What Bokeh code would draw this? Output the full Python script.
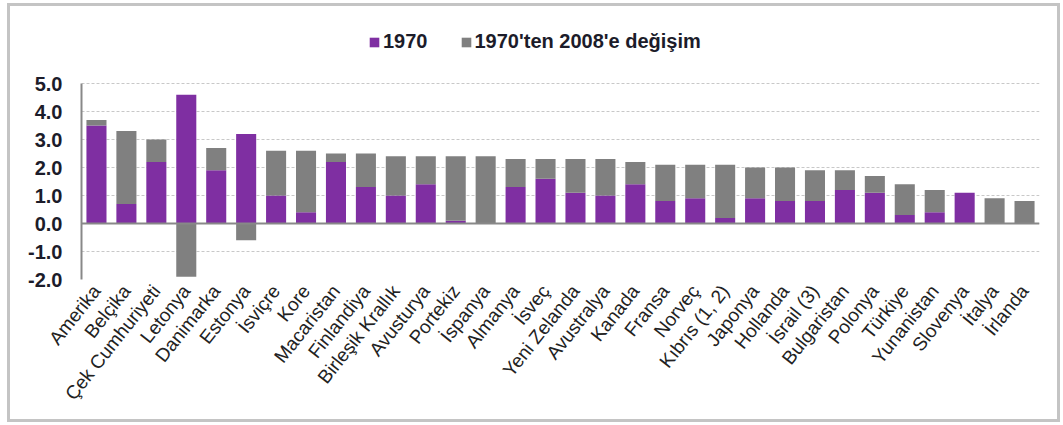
import math
from bokeh.plotting import figure
from bokeh.models import (ColumnDataSource, FactorRange, Range1d, FixedTicker,
                          NumeralTickFormatter, Span, Legend, LegendItem)
from bokeh.embed import file_html
from bokeh.resources import INLINE

countries = ["Amerika", "Belçika", "Çek Cumhuriyeti", "Letonya", "Danimarka", "Estonya",
             "İsviçre", "Kore", "Macaristan", "Finlandiya", "Birleşik Krallık", "Avusturya",
             "Portekiz", "İspanya", "Almanya", "İsveç", "Yeni Zelanda", "Avustralya",
             "Kanada", "Fransa", "Norveç", "Kıbrıs (1, 2)", "Japonya", "Hollanda",
             "İsrail (3)", "Bulgaristan", "Polonya", "Türkiye", "Yunanistan", "Slovenya",
             "İtalya", "İrlanda"]
v1970 = [3.5, 0.7, 2.2, 4.6, 1.9, 3.2, 1.0, 0.4, 2.2, 1.3, 1.0, 1.4, 0.1, 0.0, 1.3, 1.6,
         1.1, 1.0, 1.4, 0.8, 0.9, 0.2, 0.9, 0.8, 0.8, 1.2, 1.1, 0.3, 0.4, 1.1, 0.0, 0.0]
change = [0.2, 2.6, 0.8, -1.9, 0.8, -0.6, 1.6, 2.2, 0.3, 1.2, 1.4, 1.0, 2.3, 2.4, 1.0, 0.7,
          1.2, 1.3, 0.8, 1.3, 1.2, 1.9, 1.1, 1.2, 1.1, 0.7, 0.6, 1.1, 0.8, 0.0, 0.9, 0.8]
y_ticks = [-2, -1, 0, 1, 2, 3, 4, 5]
label_1970 = "1970"
label_change = "1970'ten 2008'e değişim"

PURPLE = "#7f2fa2"
GRAY = "#808080"

# stacked: positive change on top of 1970 bar, negative change below zero
chg_bottom = [b if c >= 0 else 0.0 for b, c in zip(v1970, change)]
chg_top = [b + c if c >= 0 else c for b, c in zip(v1970, change)]

src = ColumnDataSource(dict(x=countries, base=[0.0] * len(countries), v1970=v1970,
                            cb=chg_bottom, ct=chg_top))

# y range extends above 5.0 so the legend can sit inside the frame (above the grid)
p = figure(width=1053, height=419, x_range=FactorRange(*countries),
           y_range=Range1d(-2, 7.25), output_backend="svg", toolbar_location=None,
           min_border_left=71, min_border_right=24, min_border_top=14, min_border_bottom=146)
p.styles = {"border": "3px solid #c4c4c4", "margin-left": "7px", "margin-top": "3px"}
p.outline_line_color = None
p.background_fill_color = "white"
p.border_fill_color = "white"

r1 = p.vbar(x="x", bottom="base", top="v1970", width=0.67, source=src,
            fill_color=PURPLE, line_color=None)
r2 = p.vbar(x="x", bottom="cb", top="ct", width=0.67, source=src,
            fill_color=GRAY, line_color=None)

p.add_layout(Span(location=0, dimension="width", line_color="#888888", line_width=2))

# grid
p.xgrid.grid_line_color = None
p.ygrid.ticker = FixedTicker(ticks=y_ticks)
p.ygrid.grid_line_color = "#c8c8c8"
p.ygrid.grid_line_dash = "3 2"
p.ygrid.grid_line_width = 1

# y axis
p.yaxis.ticker = FixedTicker(ticks=y_ticks)
p.yaxis.bounds = (-2, 5)
p.yaxis.formatter = NumeralTickFormatter(format="0.0")
p.yaxis.axis_line_color = "#888888"
p.yaxis.axis_line_width = 2
p.yaxis.major_tick_line_color = None
p.yaxis.minor_tick_line_color = None
p.yaxis.major_tick_out = 0
p.yaxis.major_tick_in = 0
p.yaxis.major_label_standoff = 19
p.yaxis.major_label_text_font = "Liberation Sans"
p.yaxis.major_label_text_font_size = "20px"
p.yaxis.major_label_text_font_style = "bold"
p.yaxis.major_label_text_color = "#1c1c2a"

# x axis
p.xaxis.axis_line_color = None
p.xaxis.major_tick_line_color = None
p.xaxis.minor_tick_line_color = None
p.xaxis.major_tick_out = 0
p.xaxis.major_tick_in = 0
p.xaxis.major_label_orientation = 0.9
p.xaxis.major_label_standoff = 8
p.xaxis.major_label_text_font = "Liberation Sans"
p.xaxis.major_label_text_font_size = "19px"
p.xaxis.major_label_text_color = "#222222"

legend = Legend(items=[LegendItem(label=label_1970, renderers=[r1]),
                       LegendItem(label=label_change, renderers=[r2])],
                orientation="horizontal", location=(287, 226),
                border_line_color=None, background_fill_alpha=0,
                glyph_width=12, glyph_height=12, label_standoff=3, spacing=32,
                label_text_font="Liberation Sans", label_text_font_size="20px",
                label_text_font_style="bold", label_text_color="#1c1c2a",
                padding=2, margin=0)
p.add_layout(legend, "center")

open("out.html", "w").write(file_html(p, INLINE))
